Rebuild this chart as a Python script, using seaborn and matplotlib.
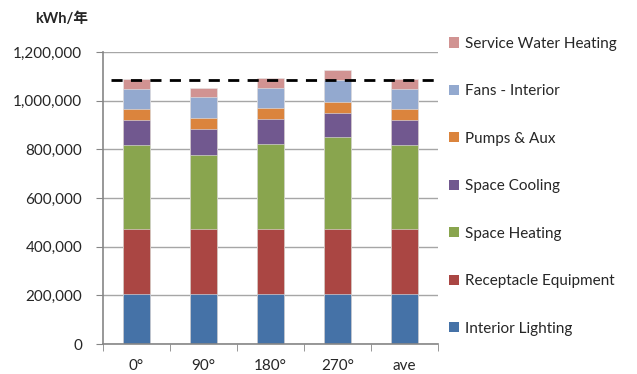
import matplotlib
matplotlib.use("Agg")
import matplotlib.pyplot as plt
from matplotlib.patches import Patch
from matplotlib.ticker import FuncFormatter, FixedLocator
import seaborn as sns
import pandas as pd
import numpy as np

# data (kWh/year) per orientation
orientations = ['0°', '90°', '180°', '270°', 'ave']
series_names = ['Interior Lighting', 'Receptacle Equipment', 'Space Heating',
                'Space Cooling', 'Pumps & Aux', 'Fans - Interior',
                'Service Water Heating']
interior_lighting = [204000, 204000, 204000, 204000, 204000]
receptacle_equipment = [268000, 268000, 268000, 268000, 268000]
space_heating = [344000, 304000, 348000, 378000, 344000]
space_cooling = [105000, 108000, 105000, 100000, 105000]
pumps_aux = [44000, 45000, 43000, 43000, 43000]
fans_interior = [83000, 84000, 86000, 90000, 84000]
service_water_heating = [43000, 41000, 40000, 41000, 42000]
reference_line = 1084000

colors = ['#4572A7', '#AA4643', '#89A54E', '#71588F', '#DB843D', '#93A9CF', '#D19392']

sns.set_style('white')
plt.rcParams['font.family'] = ['Lato', 'Noto Sans CJK JP', 'DejaVu Sans']

values = [interior_lighting, receptacle_equipment, space_heating, space_cooling,
          pumps_aux, fans_interior, service_water_heating]
df = pd.DataFrame(dict(zip(series_names, values)), index=orientations)
cum = df.cumsum(axis=1)

fig = plt.figure(figsize=(6.37, 3.74), dpi=100)
ax = fig.add_axes([0.1617, 0.0802, 0.5259, 0.7808])

# stacked bars: draw cumulative totals from the top layer down
for name, col in reversed(list(zip(series_names, colors))):
    d = pd.DataFrame({'orient': orientations, 'val': cum[name].values})
    sns.barplot(data=d, x='orient', y='val', color=col, width=0.4,
                saturation=1, ax=ax, zorder=2, edgecolor='#E8E8E8',
                linewidth=0.4)

ax.axhline(reference_line, xmin=0.024, xmax=1.0, color='black',
           linestyle=(0, (4, 3)), linewidth=2, zorder=3)

ax.set_ylim(0, 1200000)
ax.set_xlim(-0.5, 4.5)
ax.set_yticks(np.arange(0, 1200001, 200000))
ax.yaxis.set_major_formatter(FuncFormatter(lambda v, p: f'{int(v):,}'))
ax.yaxis.grid(True, color='#A6A6A6', linewidth=1, zorder=0)
ax.set_axisbelow(True)
ax.set_xlabel('')
ax.set_ylabel('')

for s in ['top', 'right']:
    ax.spines[s].set_visible(False)
for s in ['left', 'bottom']:
    ax.spines[s].set_color('#868686')
    ax.spines[s].set_linewidth(1.2)

ax.tick_params(axis='y', which='major', left=True, length=5, color='#868686',
               labelsize=11, labelcolor='#262626', pad=10)
ax.tick_params(axis='x', which='major', length=0, labelsize=11,
               labelcolor='#262626', pad=11)
ax.xaxis.set_minor_locator(FixedLocator(np.arange(-0.5, 4.6, 1)))
ax.tick_params(axis='x', which='minor', bottom=True, length=5, color='#868686')

fig.text(0.055, 0.95, 'kWh/年', fontsize=10.5, fontweight='bold',
         color='#262626', va='center', ha='left')

handles = [Patch(facecolor=c, edgecolor='none') for c in colors][::-1]
fig.legend(handles, series_names[::-1], loc='upper left',
           bbox_to_anchor=(0.695, 0.918), frameon=False, fontsize=11,
           handlelength=0.65, handleheight=0.65, handletextpad=0.4,
           labelspacing=2.19, borderaxespad=0, labelcolor='#262626')

fig.savefig('out.png', dpi=100)
